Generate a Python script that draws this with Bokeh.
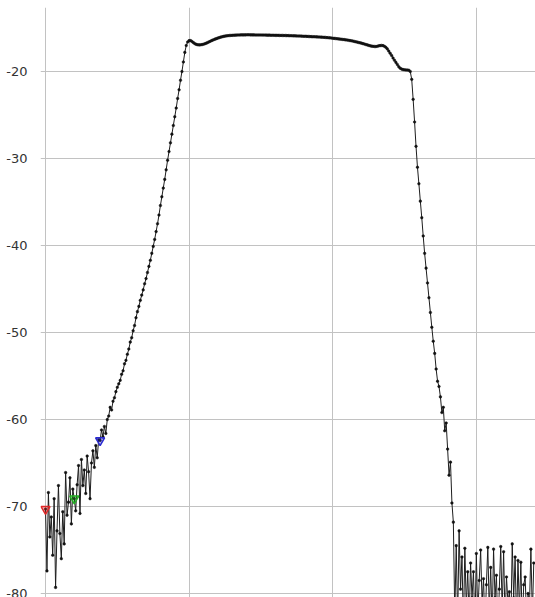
from bokeh.plotting import figure
from bokeh.models import FixedTicker, Range1d, ColumnDataSource, PrintfTickFormatter
from bokeh.embed import file_html
from bokeh.resources import INLINE

# Sweep: start and step of the frequency grid (arbitrary units, grid every 10)
sweep_start = 0.0
sweep_step = 0.1

level_db = [
    -70.3, -77.4, -68.4, -73.5, -71.2, -75.6, -69.1, -79.3, -72.8, -67.6,
    -73.1, -76.0, -70.6, -74.3, -66.1, -71.0, -69.5, -66.7, -72.0, -68.0,
    -69.1, -70.5, -67.5, -65.3, -70.8, -64.6, -67.6, -65.8, -68.5, -64.2,
    -66.0, -69.1, -65.0, -63.6, -65.5, -63.0, -64.4, -62.3, -62.4, -61.2,
    -62.0, -60.8, -61.6, -60.0, -59.6, -58.6, -58.9, -57.9, -57.5, -56.8,
    -56.3, -55.9, -55.5, -54.8, -54.4, -53.6, -53.2, -52.5, -51.9, -51.1,
    -50.6, -49.8, -49.2, -48.3, -47.6, -47.0, -46.3, -45.7, -45.1, -44.4,
    -43.8, -43.1, -42.4, -41.7, -40.9, -40.1, -39.3, -38.4, -37.5, -36.5,
    -35.4, -34.4, -33.4, -32.4, -31.3, -30.2, -29.2, -28.2, -27.2, -26.2,
    -25.2, -24.2, -23.1, -22.1, -21.0, -20.0, -18.9, -17.8, -17.0, -16.6,
    -16.45, -16.45, -16.55, -16.68, -16.8, -16.88, -16.92, -16.94, -16.93, -16.9,
    -16.86, -16.8, -16.74, -16.66, -16.58, -16.5, -16.42, -16.35, -16.28, -16.22,
    -16.16, -16.1, -16.05, -16.0, -15.96, -15.93, -15.9, -15.88, -15.86, -15.85,
    -15.84, -15.83, -15.82, -15.81, -15.8, -15.8, -15.79, -15.79, -15.79, -15.79,
    -15.78, -15.78, -15.78, -15.79, -15.79, -15.79, -15.8, -15.8, -15.8, -15.8,
    -15.8, -15.81, -15.81, -15.81, -15.82, -15.82, -15.82, -15.83, -15.83, -15.83,
    -15.84, -15.84, -15.84, -15.85, -15.85, -15.85, -15.86, -15.86, -15.87, -15.87,
    -15.88, -15.88, -15.89, -15.9, -15.9, -15.91, -15.92, -15.92, -15.93, -15.94,
    -15.95, -15.95, -15.96, -15.97, -15.98, -15.99, -16.0, -16.0, -16.01, -16.02,
    -16.03, -16.04, -16.05, -16.06, -16.07, -16.08, -16.1, -16.11, -16.13, -16.15,
    -16.17, -16.19, -16.21, -16.23, -16.25, -16.27, -16.29, -16.31, -16.33, -16.36,
    -16.38, -16.41, -16.44, -16.47, -16.5, -16.54, -16.58, -16.62, -16.66, -16.7,
    -16.74, -16.79, -16.84, -16.89, -16.94, -16.99, -17.04, -17.08, -17.1, -17.12,
    -17.13, -17.1, -17.05, -17.02, -17.0, -17.02, -17.1, -17.22, -17.4, -17.65,
    -17.9, -18.15, -18.45, -18.7, -18.95, -19.2, -19.45, -19.62, -19.72, -19.78,
    -19.8, -19.82, -19.83, -19.85, -20.0, -20.9, -23.2, -25.8, -28.6, -31.0,
    -32.9, -34.9, -36.8, -38.9, -40.9, -42.6, -44.3, -46.0, -47.7, -49.4,
    -51.0, -52.4, -54.2, -55.6, -56.2, -57.4, -59.2, -58.6, -61.3, -60.4,
    -63.4, -66.4, -64.9, -69.6, -71.8, -82.5, -74.5, -83.0, -72.8, -79.5,
    -75.8, -84.0, -74.8, -81.5, -77.5, -83.0, -76.5, -80.5, -77.5, -84.0,
    -75.4, -82.5, -78.5, -75.0, -81.0, -78.3, -84.0, -79.0, -74.7, -82.0,
    -77.0, -83.5, -74.9, -80.5, -77.9, -84.5, -79.5, -74.6, -82.0, -75.2,
    -83.0, -78.1, -81.0, -79.8, -84.0, -74.3, -80.5, -75.8, -83.5, -76.2,
    -82.0, -76.4, -84.0, -79.0, -78.1, -83.0, -80.0, -81.5, -74.9, -82.5,
    -76.5,
]

# Trace markers (M1, M2, M3)
marker_freq = [0.0, 2.0, 3.8]
marker_level = [-70.3, -69.1, -62.4]
marker_colors = ["#e02828", "#22b022", "#2a2ad0"]

# Axis ticks
y_ticks = [-80, -70, -60, -50, -40, -30, -20]
x_grid_ticks = [0, 10, 20, 30]

freq = [round(sweep_start + i * sweep_step, 3) for i in range(len(level_db))]
trace = ColumnDataSource(data=dict(freq=freq, level=level_db))
marks = ColumnDataSource(data=dict(freq=marker_freq, level=marker_level, color=marker_colors))

p = figure(
    width=535, height=597,
    output_backend="svg", toolbar_location=None,
    x_range=Range1d(-0.35, 34.12), y_range=Range1d(-80.46, -12.64),
    x_axis_location=None,
    min_border_left=40, min_border_right=0, min_border_top=7, min_border_bottom=0,
)
p.outline_line_color = None
p.background_fill_color = "white"
p.border_fill_color = "white"

p.yaxis.ticker = FixedTicker(ticks=y_ticks)
p.yaxis.formatter = PrintfTickFormatter(format="%d")
p.yaxis.axis_line_color = None
p.yaxis.major_tick_line_color = None
p.yaxis.minor_tick_line_color = None
p.yaxis.major_label_standoff = 7
p.yaxis.major_label_text_font = "DejaVu Sans"
p.yaxis.major_label_text_font_size = "13px"
p.yaxis.major_label_text_color = "#333333"

p.ygrid.grid_line_color = "#c2c2c2"
p.xgrid.ticker = FixedTicker(ticks=x_grid_ticks)
p.xgrid.grid_line_color = "#c2c2c2"

p.line("freq", "level", source=trace, line_color="#1e1e1e", line_width=1)
p.scatter("freq", "level", source=trace, marker="circle", size=2.6,
          fill_color="#111111", line_color="#111111", line_width=0.5)

p.scatter("freq", "level", source=marks, marker="inverted_triangle", size=9,
          fill_color="color", fill_alpha=0.35, line_color="color", line_width=1.5)

open("out.html", "w").write(file_html(p, INLINE))
